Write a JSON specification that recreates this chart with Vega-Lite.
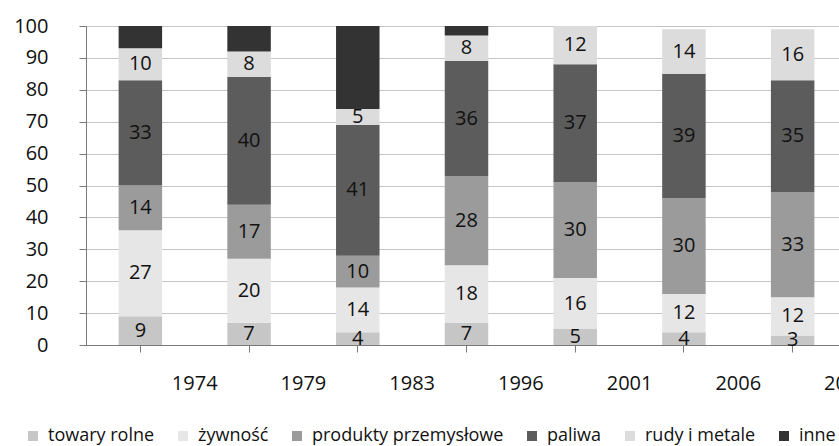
{
  "$schema": "https://vega.github.io/schema/vega-lite/v6.json",
  "width": 761,
  "height": 319,
  "autosize": "none",
  "padding": {"left": 86, "top": 26, "right": 0, "bottom": 101},
  "background": "white",
  "config": {
    "view": {"stroke": null},
    "font": "Open Sans",
    "text": {"font": "Open Sans"},
    "axisX": {
      "labelAngle": 0,
      "tickSize": 7,
      "tickOffset": -54.357,
      "labelOffset": 54.357,
      "labelPadding": 21,
      "labelFontSize": 20,
      "labelFont": "Open Sans",
      "labelColor": "#111111",
      "domainColor": "#7a7a7a",
      "tickColor": "#7a7a7a",
      "grid": false
    },
    "axisY": {
      "tickCount": 10,
      "labelOverlap": false,
      "grid": true,
      "gridDash": [1, 1],
      "gridColor": "#8a8a8a",
      "gridWidth": 1,
      "domain": true,
      "domainColor": "#7a7a7a",
      "ticks": true,
      "tickColor": "#7a7a7a",
      "tickSize": 7,
      "labelPadding": 31,
      "labelFontSize": 20,
      "labelFont": "Open Sans",
      "labelColor": "#111111"
    }
  },
  "data": {
    "values": [
      {"rok": "1974", "kategoria": "towary rolne", "lp": 1, "wartosc": 9},
      {"rok": "1974", "kategoria": "żywność", "lp": 2, "wartosc": 27},
      {"rok": "1974", "kategoria": "produkty przemysłowe", "lp": 3, "wartosc": 14},
      {"rok": "1974", "kategoria": "paliwa", "lp": 4, "wartosc": 33},
      {"rok": "1974", "kategoria": "rudy i metale", "lp": 5, "wartosc": 10},
      {"rok": "1974", "kategoria": "inne", "lp": 6, "wartosc": 7},
      {"rok": "1979", "kategoria": "towary rolne", "lp": 1, "wartosc": 7},
      {"rok": "1979", "kategoria": "żywność", "lp": 2, "wartosc": 20},
      {"rok": "1979", "kategoria": "produkty przemysłowe", "lp": 3, "wartosc": 17},
      {"rok": "1979", "kategoria": "paliwa", "lp": 4, "wartosc": 40},
      {"rok": "1979", "kategoria": "rudy i metale", "lp": 5, "wartosc": 8},
      {"rok": "1979", "kategoria": "inne", "lp": 6, "wartosc": 8},
      {"rok": "1983", "kategoria": "towary rolne", "lp": 1, "wartosc": 4},
      {"rok": "1983", "kategoria": "żywność", "lp": 2, "wartosc": 14},
      {"rok": "1983", "kategoria": "produkty przemysłowe", "lp": 3, "wartosc": 10},
      {"rok": "1983", "kategoria": "paliwa", "lp": 4, "wartosc": 41},
      {"rok": "1983", "kategoria": "rudy i metale", "lp": 5, "wartosc": 5},
      {"rok": "1983", "kategoria": "inne", "lp": 6, "wartosc": 26},
      {"rok": "1996", "kategoria": "towary rolne", "lp": 1, "wartosc": 7},
      {"rok": "1996", "kategoria": "żywność", "lp": 2, "wartosc": 18},
      {"rok": "1996", "kategoria": "produkty przemysłowe", "lp": 3, "wartosc": 28},
      {"rok": "1996", "kategoria": "paliwa", "lp": 4, "wartosc": 36},
      {"rok": "1996", "kategoria": "rudy i metale", "lp": 5, "wartosc": 8},
      {"rok": "1996", "kategoria": "inne", "lp": 6, "wartosc": 3},
      {"rok": "2001", "kategoria": "towary rolne", "lp": 1, "wartosc": 5},
      {"rok": "2001", "kategoria": "żywność", "lp": 2, "wartosc": 16},
      {"rok": "2001", "kategoria": "produkty przemysłowe", "lp": 3, "wartosc": 30},
      {"rok": "2001", "kategoria": "paliwa", "lp": 4, "wartosc": 37},
      {"rok": "2001", "kategoria": "rudy i metale", "lp": 5, "wartosc": 12},
      {"rok": "2006", "kategoria": "towary rolne", "lp": 1, "wartosc": 4},
      {"rok": "2006", "kategoria": "żywność", "lp": 2, "wartosc": 12},
      {"rok": "2006", "kategoria": "produkty przemysłowe", "lp": 3, "wartosc": 30},
      {"rok": "2006", "kategoria": "paliwa", "lp": 4, "wartosc": 39},
      {"rok": "2006", "kategoria": "rudy i metale", "lp": 5, "wartosc": 14},
      {"rok": "2008", "kategoria": "towary rolne", "lp": 1, "wartosc": 3},
      {"rok": "2008", "kategoria": "żywność", "lp": 2, "wartosc": 12},
      {"rok": "2008", "kategoria": "produkty przemysłowe", "lp": 3, "wartosc": 33},
      {"rok": "2008", "kategoria": "paliwa", "lp": 4, "wartosc": 35},
      {"rok": "2008", "kategoria": "rudy i metale", "lp": 5, "wartosc": 16}
    ]
  },
  "transform": [
    {"stack": "wartosc", "groupby": ["rok"], "sort": [{"field": "lp", "order": "ascending"}], "as": ["y0", "y1"]},
    {"calculate": "(datum.y0 + datum.y1) / 2", "as": "ymid"}
  ],
  "layer": [
    {
      "mark": {"type": "bar"},
      "encoding": {
        "x": {
          "field": "rok",
          "type": "ordinal",
          "title": null,
          "scale": {"paddingInner": 0.6, "paddingOuter": 0.3}
        },
        "y": {
          "field": "y0",
          "type": "quantitative",
          "title": null,
          "scale": {"domain": [0, 100], "nice": false}
        },
        "y2": {"field": "y1"},
        "color": {
          "field": "kategoria",
          "type": "nominal",
          "scale": {
            "domain": ["towary rolne", "żywność", "produkty przemysłowe", "paliwa", "rudy i metale", "inne"],
            "range": ["#c6c6c6", "#e6e6e6", "#9b9b9b", "#5c5c5c", "#dcdcdc", "#333333"]
          },
          "legend": {
            "title": null,
            "orient": "none",
            "direction": "horizontal",
            "columns": 6,
            "legendX": -62,
            "legendY": 401,
            "padding": 0,
            "symbolType": "square",
            "symbolSize": 100,
            "symbolStrokeWidth": 0,
            "labelFontSize": 18,
            "labelFont": "Open Sans",
            "labelLimit": 0,
            "labelOffset": 6,
            "columnPadding": 19,
            "labelColor": "#111111"
          }
        }
      }
    },
    {
      "transform": [{"filter": "datum.kategoria != 'inne'"}],
      "mark": {"type": "text", "fontSize": 20, "font": "Open Sans", "color": "#111111"},
      "encoding": {
        "x": {"field": "rok", "type": "ordinal", "title": null},
        "y": {"field": "ymid", "type": "quantitative", "title": null},
        "text": {"field": "wartosc", "type": "quantitative"}
      }
    }
  ]
}
